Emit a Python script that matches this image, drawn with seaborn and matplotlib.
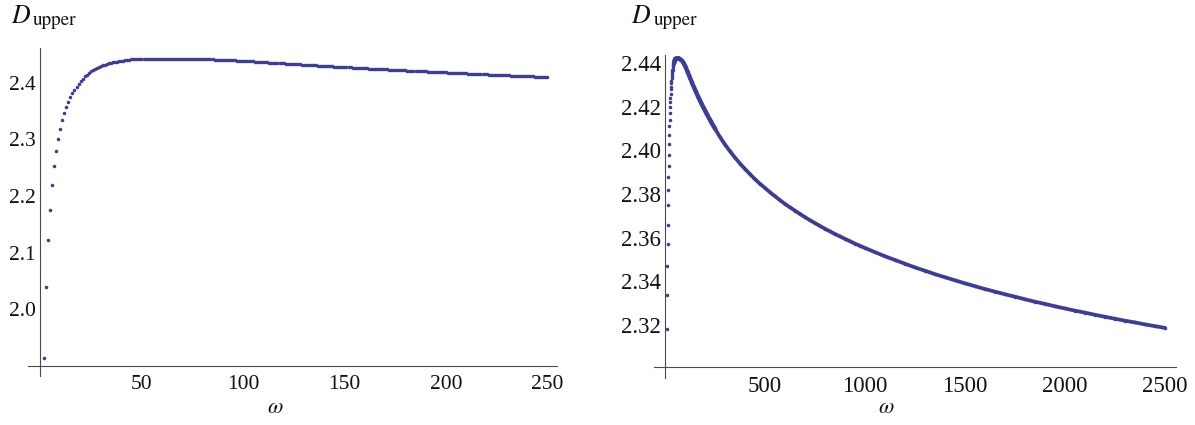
import matplotlib
matplotlib.use("Agg")
import matplotlib.pyplot as plt
from matplotlib.ticker import MultipleLocator, FixedLocator, FormatStrFormatter
import seaborn as sns
import pandas as pd

# ---------------- data ----------------
omega_left = list(range(2, 251))
d_left = [
    1.914, 2.040, 2.122, 2.176, 2.219, 2.253, 2.280, 2.300, 2.318,
    2.334, 2.347, 2.357, 2.366, 2.375, 2.382, 2.388, 2.393, 2.398, 2.403,
    2.407, 2.411, 2.414, 2.417, 2.420, 2.422, 2.424, 2.426, 2.428, 2.429,
    2.431, 2.432, 2.433, 2.434, 2.435, 2.436, 2.437, 2.437, 2.438, 2.439,
    2.439, 2.440, 2.440, 2.440, 2.441, 2.441, 2.441, 2.441, 2.442, 2.442,
    2.4420, 2.4421, 2.4421, 2.4421, 2.4422, 2.4422, 2.4422, 2.4422, 2.4422, 2.4422,
    2.4422, 2.4422, 2.4422, 2.4422, 2.4422, 2.4422, 2.4422, 2.4422, 2.4421, 2.4421,
    2.4421, 2.4420, 2.4420, 2.4419, 2.4418, 2.4418, 2.4417, 2.4416, 2.4416, 2.4415,
    2.4414, 2.4413, 2.4412, 2.4411, 2.4410, 2.4409, 2.4408, 2.4406, 2.4405, 2.4403,
    2.4402, 2.4400, 2.4399, 2.4397, 2.4395, 2.4393, 2.4391, 2.4389, 2.4388, 2.4386,
    2.4384, 2.4382, 2.4380, 2.4377, 2.4375, 2.4373, 2.4371, 2.4369, 2.4366, 2.4364,
    2.4362, 2.4360, 2.4357, 2.4355, 2.4353, 2.4350, 2.4348, 2.4346, 2.4344, 2.4341,
    2.4339, 2.4337, 2.4335, 2.4332, 2.4330, 2.4328, 2.4326, 2.4323, 2.4321, 2.4319,
    2.4317, 2.4314, 2.4312, 2.4310, 2.4308, 2.4306, 2.4304, 2.4301, 2.4299, 2.4297,
    2.4295, 2.4293, 2.4291, 2.4289, 2.4286, 2.4284, 2.4282, 2.4280, 2.4278, 2.4276,
    2.4274, 2.4272, 2.4270, 2.4268, 2.4266, 2.4264, 2.4261, 2.4259, 2.4257, 2.4255,
    2.4253, 2.4251, 2.4249, 2.4247, 2.4246, 2.4244, 2.4242, 2.4240, 2.4238, 2.4236,
    2.4234, 2.4232, 2.4230, 2.4228, 2.4226, 2.4225, 2.4223, 2.4221, 2.4219, 2.4217,
    2.4215, 2.4213, 2.4212, 2.4210, 2.4208, 2.4206, 2.4204, 2.4203, 2.4201, 2.4199,
    2.4197, 2.4195, 2.4194, 2.4192, 2.4190, 2.4188, 2.4187, 2.4185, 2.4183, 2.4181,
    2.4180, 2.4178, 2.4176, 2.4174, 2.4173, 2.4171, 2.4169, 2.4167, 2.4166, 2.4164,
    2.4162, 2.4161, 2.4159, 2.4157, 2.4155, 2.4154, 2.4152, 2.4150, 2.4149, 2.4147,
    2.4145, 2.4144, 2.4142, 2.4140, 2.4139, 2.4137, 2.4136, 2.4134, 2.4132, 2.4131,
    2.4129, 2.4127, 2.4126, 2.4124, 2.4122, 2.4121, 2.4119, 2.4118, 2.4116, 2.4114,
    2.4113, 2.4111, 2.4110, 2.4108, 2.4106, 2.4105, 2.4103, 2.4102, 2.4100, 2.4099,
]
assert len(d_left) == len(omega_left)

omega_tail = list(range(275, 1001, 25)) + list(range(1050, 2501, 50))
d_tail = [
    2.4061, 2.4027, 2.3996, 2.3967, 2.3940, 2.3915, 2.3891, 2.3868, 2.3847, 2.3828,
    2.3808, 2.3790, 2.3772, 2.3755, 2.3739, 2.3724, 2.3709, 2.3694, 2.3680, 2.3667,
    2.3654, 2.3641, 2.3629, 2.3617, 2.3606, 2.3595, 2.3584, 2.3573, 2.3563, 2.3553,
    2.3534, 2.3515, 2.3498, 2.3481, 2.3464, 2.3449, 2.3433, 2.3419, 2.3405, 2.3391,
    2.3378, 2.3365, 2.3353, 2.3341, 2.3330, 2.3318, 2.3307, 2.3297, 2.3286, 2.3276,
    2.3266, 2.3257, 2.3247, 2.3238, 2.3229, 2.3220, 2.3212, 2.3203, 2.3195, 2.3187,
]
assert len(d_tail) == len(omega_tail)

left_xticks = [50, 100, 150, 200, 250]
left_yticks = [2.0, 2.1, 2.2, 2.3, 2.4]
right_xticks = [500, 1000, 1500, 2000, 2500]
right_yticks = [2.32, 2.34, 2.36, 2.38, 2.40, 2.42, 2.44]
y_label_sub = "upper"
x_label = "\u03c9"

# ---------------- style ----------------
sns.set_style("white")
plt.rcParams["font.family"] = ["Liberation Serif", "DejaVu Serif"]

W, H = 1195, 425
POINT = "#3d3d99"
AXC = "#4a4a4a"

fig = plt.figure(figsize=(W / 100, H / 100), dpi=100)


def px_axes(x0, y0, x1, y1):
    return fig.add_axes([x0 / W, 1 - y1 / H, (x1 - x0) / W, (y1 - y0) / H])


def style_axes(ax, xmaj, xmin_step, ymaj, ymin_step, yfmt, ybase, lsize):
    for s in ("top", "right"):
        ax.spines[s].set_visible(False)
    ax.spines["left"].set_position(("data", 0))
    ax.spines["bottom"].set_position(("data", ybase))
    for s in ("left", "bottom"):
        ax.spines[s].set_color(AXC)
        ax.spines[s].set_linewidth(0.8)
        ax.spines[s].set_zorder(1)
    ax.xaxis.set_major_locator(FixedLocator(xmaj))
    ax.xaxis.set_minor_locator(MultipleLocator(xmin_step))
    ax.yaxis.set_major_locator(FixedLocator(ymaj))
    ax.yaxis.set_minor_locator(MultipleLocator(ymin_step))
    ax.yaxis.set_major_formatter(FormatStrFormatter(yfmt))
    ax.tick_params(which="major", direction="in", length=3.0, width=0.6,
                   color=AXC, labelsize=lsize, labelcolor="#111111")
    ax.tick_params(which="minor", direction="in", length=1.8, width=0.5, color=AXC)
    ax.tick_params(axis="x", which="major", pad=6.5)
    ax.tick_params(axis="y", which="major", pad=3.0)
    ax.set_xlabel("")
    ax.set_ylabel("")
    ax.grid(False)


# ---------------- left panel ----------------
baseL = 1.9
axL = px_axes(28, 48, 557, 376)
dfL = pd.DataFrame({"omega": omega_left, "D": d_left})
dfL = dfL[dfL["D"] >= baseL]
sns.scatterplot(data=dfL, x="omega", y="D", ax=axL, s=6.5, color=POINT,
                linewidth=0, zorder=3)
axL.set_xlim(-5.9, 254.7)
axL.set_ylim(1.8823, 2.4613)
style_axes(axL, left_xticks, 10, left_yticks, 0.02, "%.1f", baseL, 15.5)

# ---------------- right panel ----------------
baseR = 2.3009
axR = px_axes(654.3, 55, 1176, 377.7)
dfR = pd.DataFrame({"omega": omega_left + omega_tail, "D": d_left + d_tail})
dfR = dfR[dfR["D"] >= baseR]
sns.scatterplot(data=dfR, x="omega", y="D", ax=axR, s=6.5, color=POINT,
                linewidth=0, zorder=3)
dense = dfR[dfR["omega"] >= 45]
sns.lineplot(data=dense, x="omega", y="D", ax=axR, color=POINT, linewidth=2.7,
             estimator=None, sort=False, zorder=3, solid_capstyle="round")
axR.set_xlim(-53.5, 2555)
axR.set_ylim(2.2959, 2.4437)
style_axes(axR, right_xticks, 100, right_yticks, 0.005, "%.2f", baseR, 16.5)

# ---------------- axis labels ----------------
for dx, ux in ((11.0, 33.3), (631.0, 654.3)):
    fig.text(dx / W, 1 - 23.3 / H, "D", family="STIXGeneral", style="italic",
             fontsize=18.5, ha="left", va="baseline", color="#111111")
    fig.text(ux / W, 1 - 25.0 / H, y_label_sub, family="STIXGeneral",
             fontsize=13.8, ha="left", va="baseline", color="#111111")

for cx in (275.5, 886):
    fig.text(cx / W, 1 - 413 / H, x_label, family="STIXGeneral", style="italic",
             fontsize=16, ha="center", va="baseline", color="#111111")

fig.savefig("out.png", dpi=100, facecolor="white")
